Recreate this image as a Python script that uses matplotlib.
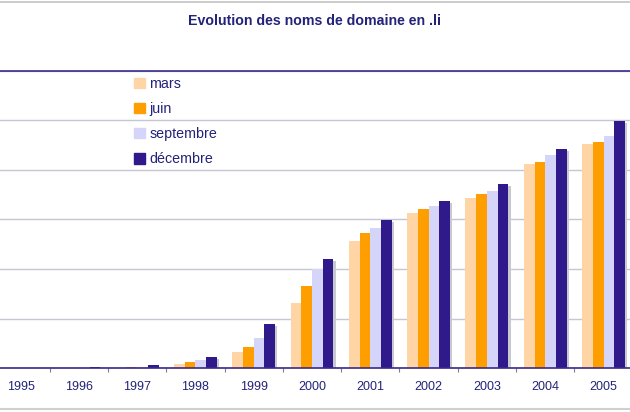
import numpy as np
import matplotlib.pyplot as plt
from matplotlib.lines import Line2D
from matplotlib.patches import Patch

plt.rcParams['font.family'] = ['Liberation Sans', 'DejaVu Sans']

annees = ['1995', '1996', '1997', '1998', '1999', '2000',
          '2001', '2002', '2003', '2004', '2005']
mars = [0, 20, 70, 460, 1640, 6610, 12800, 15660, 17170, 20620, 22610]
juin = [0, 20, 130, 670, 2180, 8300, 13610, 16030, 17600, 20830, 22840]
septembre = [0, 30, 150, 840, 3020, 9980, 14140, 16330, 17870, 21470, 23390]
decembre = [0, 100, 300, 1170, 4440, 10990, 14920, 16830, 18550, 22080, 24930]

series = [('mars', mars, '#ffd5a6'),
          ('juin', juin, '#ff9e00'),
          ('septembre', septembre, '#d5d5fa'),
          ('décembre', decembre, '#30198a')]

texte = '#23237a'

fig = plt.figure(figsize=(6.3, 4.12), dpi=100)
ax = fig.add_axes([-0.0137, 0.106, 1.018, 0.7228])

x = np.arange(len(annees))
w = 0.184
dx = 2.2 / 58.3
dy = 200

# ombres grises derriere les barres
for i, (nom, vals, c) in enumerate(series):
    pos = x + (i - 1.5) * w
    vals = np.array(vals)
    ax.bar(pos + dx, np.clip(vals - dy, 0, None), w, color='#c9c9cf',
           zorder=1, linewidth=0)
for i, (nom, vals, c) in enumerate(series):
    pos = x + (i - 1.5) * w
    ax.bar(pos, vals, w, color=c, zorder=2, linewidth=0, label=nom)

ax.set_xlim(-0.5, 10.5)
ax.set_ylim(0, 30000)
ax.set_yticks(np.arange(0, 30001, 5000))
ax.yaxis.grid(True, color='#c6c6d6', linewidth=1)
ax.set_axisbelow(True)
ax.tick_params(axis='y', left=False, labelleft=False)

ax.set_xticks(x)
ax.set_xticklabels(annees, color=texte, fontsize=9)
ax.tick_params(axis='x', length=0, pad=9)
ax.set_xticks(np.arange(-0.5, 11, 1), minor=True)
ax.tick_params(axis='x', which='minor', length=3, color='#7a7a9a', width=0.8)

for s in ['left', 'right']:
    ax.spines[s].set_visible(False)
ax.spines['top'].set_color('#3a2a8a')
ax.spines['top'].set_linewidth(1.2)
ax.spines['bottom'].set_color('#3a2a8a')
ax.spines['bottom'].set_linewidth(1.2)

handles = [Patch(color=c, label=nom) for nom, vals, c in series]
leg = ax.legend(handles=handles, loc='upper left', bbox_to_anchor=(0.203, 1.022),
                frameon=False, fontsize=10.3, handlelength=0.75, handleheight=0.75,
                handletextpad=0.3, labelspacing=0.78)
for t in leg.get_texts():
    t.set_color(texte)

fig.text(0.5, 0.95, 'Evolution des noms de domaine en .li', ha='center',
         va='center', fontsize=10.2, fontweight='bold', color=texte)

fig.add_artist(Line2D([0, 1], [0.994, 0.994], color='#c4c4c4', linewidth=1.2))
fig.add_artist(Line2D([0, 1], [0.007, 0.007], color='#d0d0d0', linewidth=1.5))

fig.savefig('out.png', dpi=100)
